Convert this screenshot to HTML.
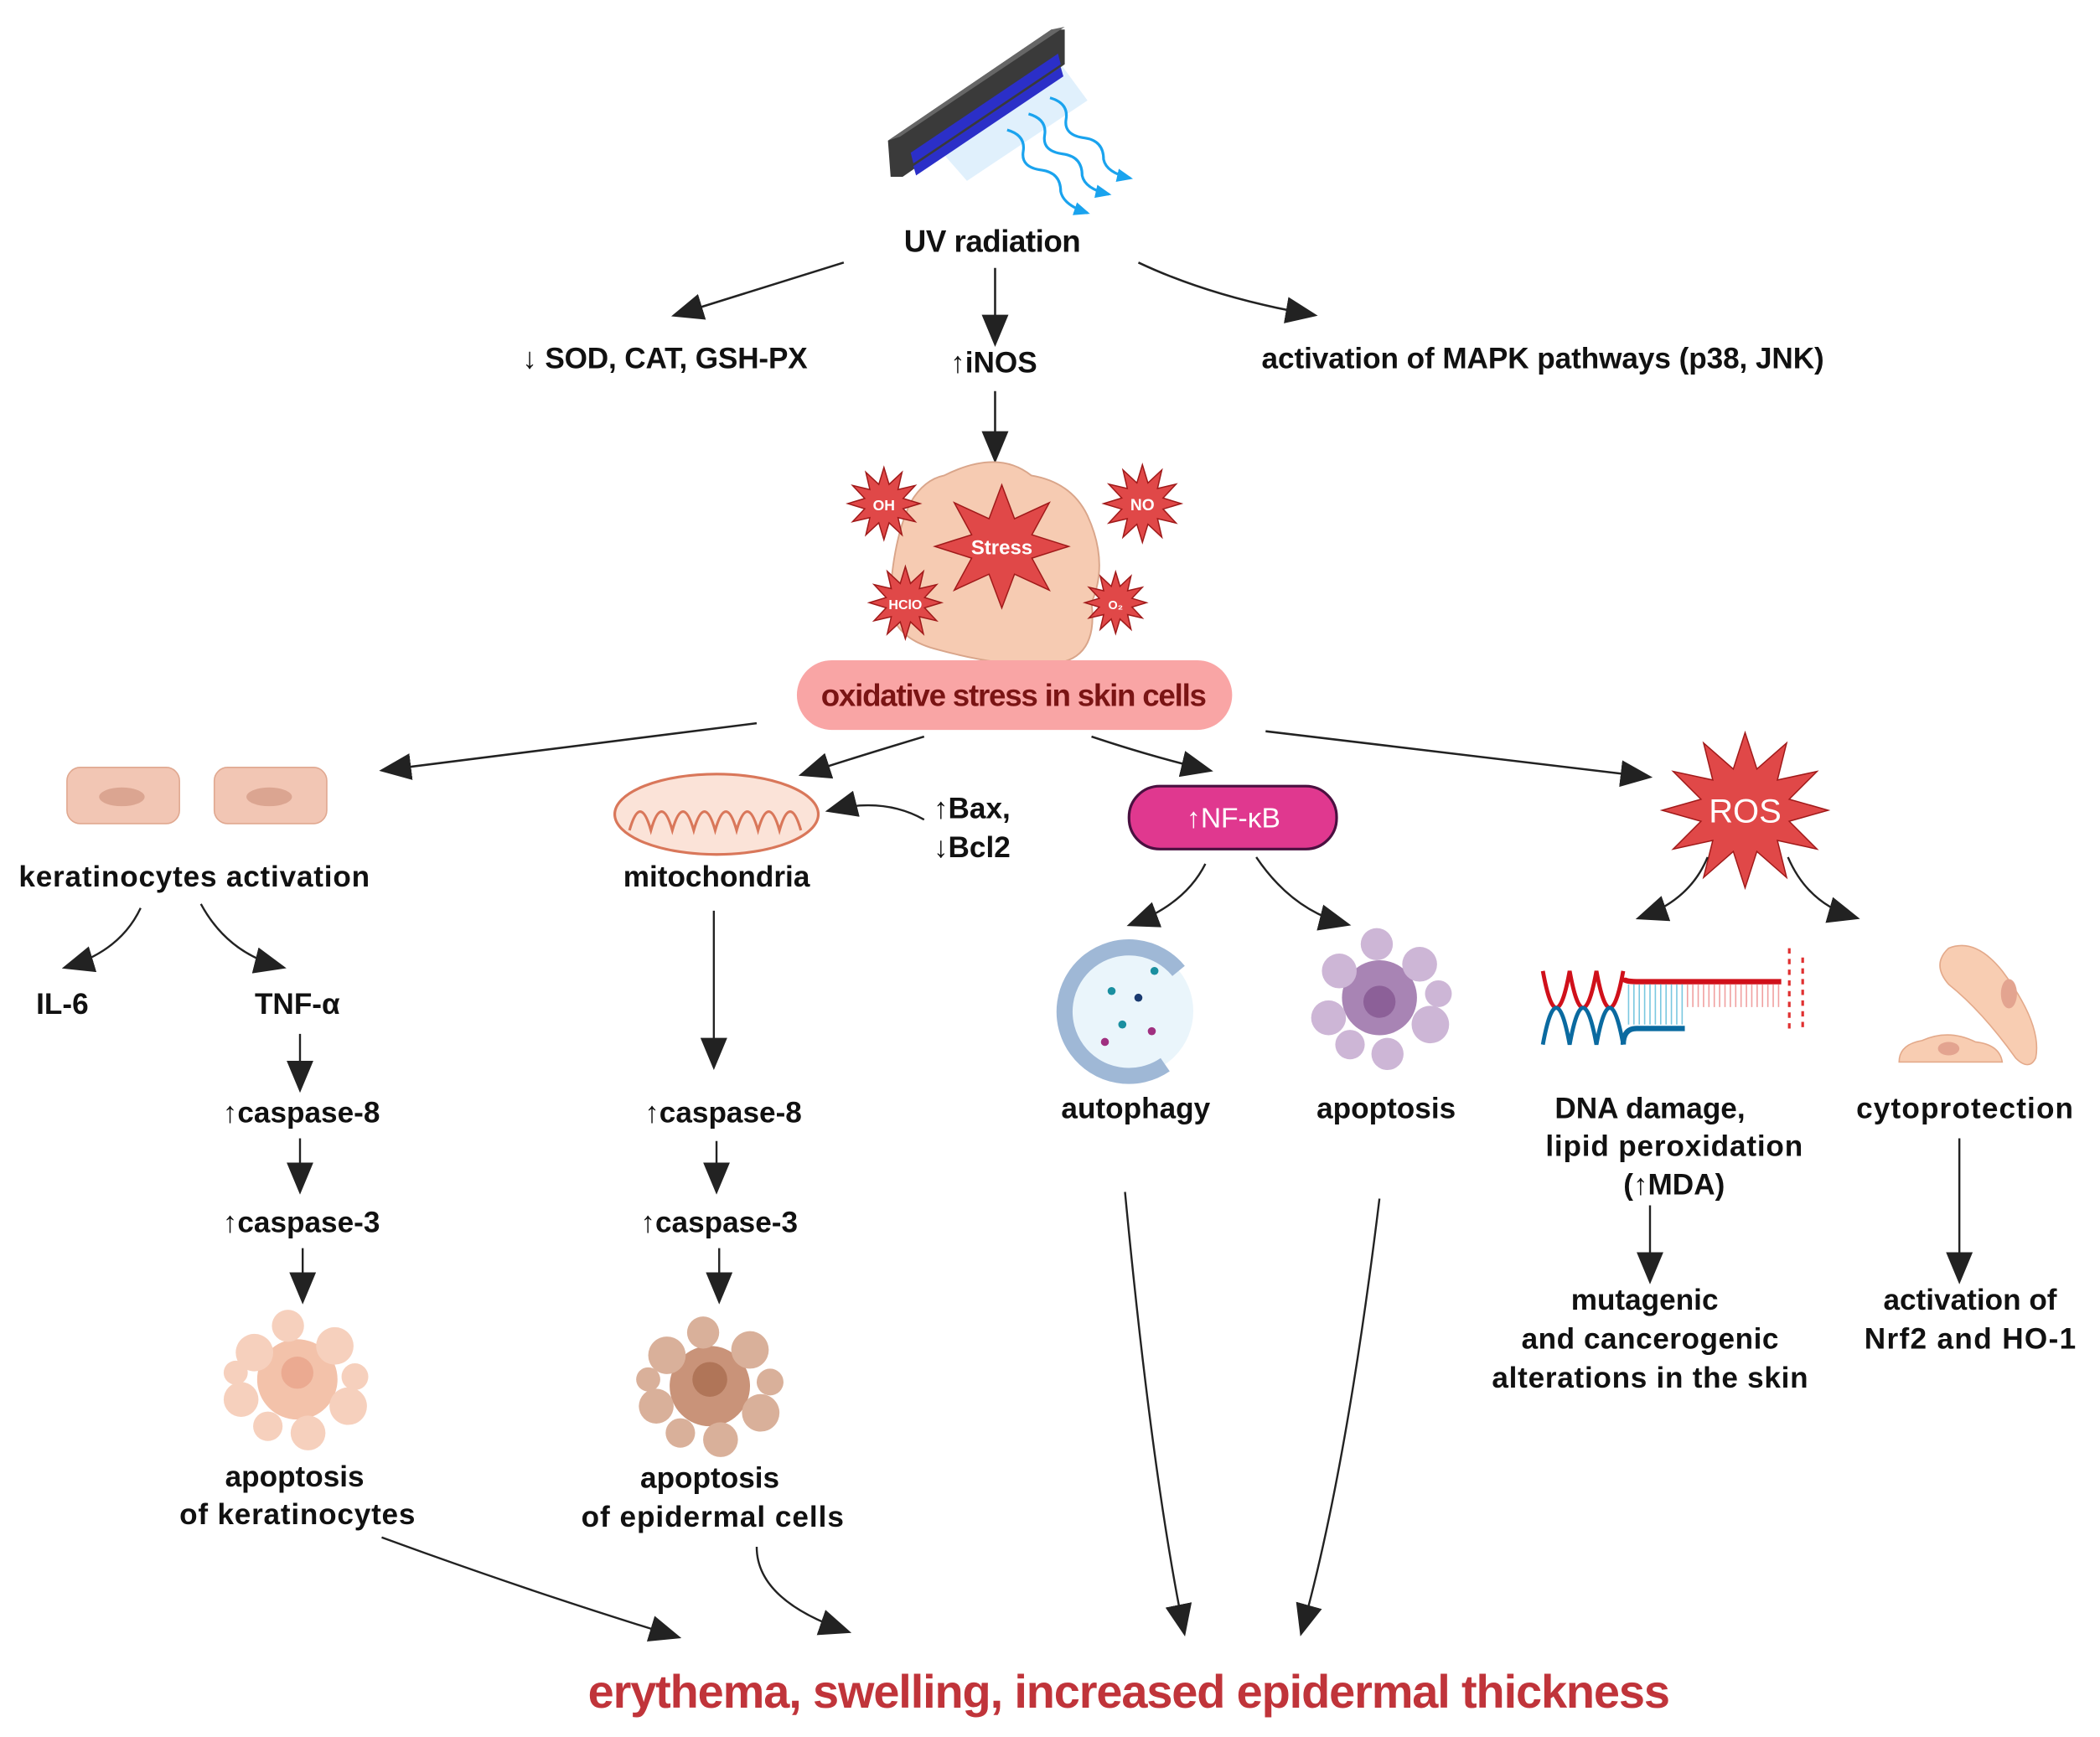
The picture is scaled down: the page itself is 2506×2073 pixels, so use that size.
<!DOCTYPE html>
<html><head><meta charset="utf-8"><style>
html,body{margin:0;padding:0;background:#fff}
svg{display:block}
text{font-family:"Liberation Sans",sans-serif;font-weight:bold;fill:#111}
</style></head><body>
<svg width="2506" height="2073" viewBox="0 0 1568 1297" xmlns="http://www.w3.org/2000/svg">
<defs>
<marker id="b" markerWidth="24" markerHeight="20" refX="20" refY="10" orient="auto" markerUnits="userSpaceOnUse" viewBox="0 0 24 20"><path d="M0,0 L24,10 L0,20 z" fill="#222"/></marker>
<marker id="w" markerWidth="12" markerHeight="10" refX="10" refY="5" orient="auto" markerUnits="userSpaceOnUse" viewBox="0 0 12 10"><path d="M0,0 L12,5 L0,10 z" fill="#1aa3ee"/></marker>
<polygon id="st" points="1,0 0.531,0.142 0.866,0.5 0.389,0.389 0.5,0.866 0.142,0.531 0,1 -0.142,0.531 -0.5,0.866 -0.389,0.389 -0.866,0.5 -0.531,0.142 -1,0 -0.531,-0.142 -0.866,-0.5 -0.389,-0.389 -0.5,-0.866 -0.142,-0.531 0,-1 0.142,-0.531 0.5,-0.866 0.389,-0.389 0.866,-0.5 0.531,-0.142" fill="#e04848" stroke="#a01a1a" stroke-width="1.5" vector-effect="non-scaling-stroke"/>
<polygon id="st8" points="1,0 0.45,0.19 0.71,0.71 0.19,0.45 0,1 -0.19,0.45 -0.71,0.71 -0.45,0.19 -1,0 -0.45,-0.19 -0.71,-0.71 -0.19,-0.45 0,-1 0.19,-0.45 0.71,-0.71 0.45,-0.19" fill="#e04848" stroke="#a01a1a" stroke-width="1.5" vector-effect="non-scaling-stroke"/>
</defs>

<!-- UV lamp -->
<g>
<polygon points="700,110 790,45 812,75 722,135" fill="#d8ecfb" opacity="0.8"/>
<polygon points="663,105 785,22 795,22 795,48 674,132 665,132" fill="#3a3a3a"/>
<polygon points="663,105 785,22 795,20 672,102" fill="#666"/>
<polygon points="680,114 790,40 792,48 682,122" fill="#2b2fc8"/>
<polygon points="682,124 792,50 794,57 684,131" fill="#2b2fc8"/>
<g fill="none" stroke="#1aa3ee" stroke-width="2">
<path d="M752,97 q14,4 12,16 q-2,12 14,14 q14,2 14,16 q2,10 20,16" marker-end="url(#w)"/>
<path d="M768,85 q14,4 12,16 q-2,12 14,14 q14,2 14,16 q2,10 20,14" marker-end="url(#w)"/>
<path d="M784,73 q14,4 12,16 q-2,12 14,14 q14,2 14,16 q2,10 20,14" marker-end="url(#w)"/>
</g>
</g>
<text x="741" y="188" text-anchor="middle" font-size="23" textLength="132">UV radiation</text>

<g fill="none" stroke="#222" stroke-width="1.6">
<path d="M630,196 Q570,215 505,235" marker-end="url(#b)"/>
<path d="M743,200 L743,255" marker-end="url(#b)"/>
<path d="M850,196 Q905,222 980,235" marker-end="url(#b)"/>
<path d="M743,292 L743,342" marker-end="url(#b)"/>
</g>
<text x="390" y="275" font-size="22" textLength="213">↓ SOD, CAT, GSH-PX</text>
<text x="742" y="278" text-anchor="middle" font-size="22">↑iNOS</text>
<text x="942" y="275" font-size="22" textLength="420">activation of MAPK pathways (p38, JNK)</text>

<!-- cell with stress -->
<path d="M705,355 Q745,335 770,355 Q800,360 812,385 Q828,420 815,450 Q820,490 790,495 Q755,500 700,485 Q660,475 665,440 Q668,400 680,375 Q690,358 705,355z" fill="#f6cbb2" stroke="#d9a58a" stroke-width="1.2"/>
<use href="#st8" transform="translate(748,408) scale(50,46)"/>
<text x="748" y="414" text-anchor="middle" font-size="15" style="fill:#fff">Stress</text>
<use href="#st" transform="translate(660,376) scale(27)"/>
<text x="660" y="381" text-anchor="middle" font-size="11" style="fill:#fff">OH</text>
<use href="#st" transform="translate(853,376) scale(29)"/>
<text x="853" y="381" text-anchor="middle" font-size="12" style="fill:#fff">NO</text>
<use href="#st" transform="translate(676,450) scale(27)"/>
<text x="676" y="455" text-anchor="middle" font-size="10" style="fill:#fff">HClO</text>
<use href="#st" transform="translate(833,450) scale(23)"/>
<text x="833" y="455" text-anchor="middle" font-size="9" style="fill:#fff">O₂</text>

<rect x="595" y="493" width="325" height="52" rx="26" fill="#f9a5a5"/>
<text x="757" y="527" text-anchor="middle" font-size="23" style="fill:#7a1414" textLength="288">oxidative stress in skin cells</text>

<g fill="none" stroke="#222" stroke-width="1.6">
<path d="M565,540 L287,575" marker-end="url(#b)"/>
<path d="M690,550 Q640,565 600,578" marker-end="url(#b)"/>
<path d="M815,550 Q860,565 902,575" marker-end="url(#b)"/>
<path d="M945,546 L1230,580" marker-end="url(#b)"/>
</g>

<!-- keratinocytes -->
<rect x="50" y="573" width="84" height="42" rx="10" fill="#f2c6b4" stroke="#e0a890"/>
<ellipse cx="91" cy="595" rx="17" ry="7" fill="#dba591"/>
<rect x="160" y="573" width="84" height="42" rx="10" fill="#f2c6b4" stroke="#e0a890"/>
<ellipse cx="201" cy="595" rx="17" ry="7" fill="#dba591"/>
<text x="145" y="662" text-anchor="middle" font-size="22" textLength="262">keratinocytes activation</text>
<g fill="none" stroke="#222" stroke-width="1.5">
<path d="M105,678 Q90,710 50,722" marker-end="url(#b)"/>
<path d="M150,675 Q170,712 210,722" marker-end="url(#b)"/>
<path d="M224,772 L224,812" marker-end="url(#b)"/>
<path d="M224,850 L224,888" marker-end="url(#b)"/>
<path d="M226,932 L226,970" marker-end="url(#b)"/>
</g>
<text x="27" y="757" font-size="22">IL-6</text>
<text x="222" y="757" text-anchor="middle" font-size="22">TNF-α</text>
<text x="225" y="838" text-anchor="middle" font-size="22">↑caspase-8</text>
<text x="225" y="920" text-anchor="middle" font-size="22">↑caspase-3</text>
<g fill="#f5c8b2" opacity="0.85">
<circle cx="222" cy="1030" r="30" fill="#f1b89c"/><circle cx="190" cy="1010" r="14"/><circle cx="250" cy="1005" r="14"/><circle cx="180" cy="1045" r="13"/><circle cx="260" cy="1050" r="14"/><circle cx="215" cy="990" r="12"/><circle cx="230" cy="1070" r="13"/><circle cx="200" cy="1065" r="11"/><circle cx="265" cy="1028" r="10"/><circle cx="176" cy="1025" r="9"/>
<circle cx="222" cy="1025" r="12" fill="#e89c7e"/>
</g>
<text x="220" y="1110" text-anchor="middle" font-size="22">apoptosis</text>
<text x="222" y="1138" text-anchor="middle" font-size="22" textLength="176">of keratinocytes</text>

<!-- mitochondria -->
<ellipse cx="535" cy="608" rx="76" ry="30" fill="#fbe3d8" stroke="#d9775a" stroke-width="2"/>
<path d="M470,620 q8,-28 16,0 q8,-28 16,0 q8,-28 16,0 q8,-28 16,0 q8,-28 16,0 q8,-28 16,0 q8,-28 16,0 q8,-28 16,0" fill="none" stroke="#d9775a" stroke-width="2"/>
<text x="535" y="662" text-anchor="middle" font-size="22">mitochondria</text>
<text x="697" y="611" font-size="22">↑Bax,</text>
<text x="697" y="640" font-size="22">↓Bcl2</text>
<g fill="none" stroke="#222" stroke-width="1.5">
<path d="M690,612 Q660,595 620,605" marker-end="url(#b)"/>
<path d="M533,680 L533,795" marker-end="url(#b)"/>
<path d="M535,852 L535,888" marker-end="url(#b)"/>
<path d="M537,932 L537,970" marker-end="url(#b)"/>
</g>
<text x="540" y="838" text-anchor="middle" font-size="22">↑caspase-8</text>
<text x="537" y="920" text-anchor="middle" font-size="22">↑caspase-3</text>
<g fill="#d9b09a">
<circle cx="530" cy="1035" r="30" fill="#c99379"/><circle cx="498" cy="1012" r="14"/><circle cx="560" cy="1008" r="14"/><circle cx="490" cy="1050" r="13"/><circle cx="568" cy="1055" r="14"/><circle cx="525" cy="995" r="12"/><circle cx="538" cy="1075" r="13"/><circle cx="508" cy="1070" r="11"/><circle cx="575" cy="1032" r="10"/><circle cx="484" cy="1030" r="9"/>
<circle cx="530" cy="1030" r="13" fill="#b07558"/>
</g>
<text x="530" y="1111" text-anchor="middle" font-size="22">apoptosis</text>
<text x="532" y="1140" text-anchor="middle" font-size="22" textLength="196">of epidermal cells</text>

<!-- NF-kB -->
<rect x="843" y="587" width="155" height="47" rx="23" fill="#e0388f" stroke="#4a1040" stroke-width="2"/>
<text x="921" y="618" text-anchor="middle" font-size="21" style="fill:#fff;font-weight:normal">↑NF-κB</text>
<g fill="none" stroke="#222" stroke-width="1.5">
<path d="M900,645 Q885,675 845,690" marker-end="url(#b)"/>
<path d="M938,640 Q965,680 1005,690" marker-end="url(#b)"/>
</g>
<circle cx="843" cy="755" r="48" fill="#eaf5fb"/>
<path d="M870,795 A48,48 0 1,1 880,725" fill="none" stroke="#9fb8d6" stroke-width="12"/>
<g fill="#1a8fa0"><circle cx="830" cy="740" r="3"/><circle cx="850" cy="745" r="3" fill="#1a3a70"/><circle cx="838" cy="765" r="3"/><circle cx="860" cy="770" r="3" fill="#a03080"/><circle cx="825" cy="778" r="3" fill="#a03080"/><circle cx="862" cy="725" r="3"/></g>
<text x="848" y="835" text-anchor="middle" font-size="22">autophagy</text>
<g fill="#cdb6d6">
<circle cx="1030" cy="745" r="28" fill="#a884b4"/><circle cx="1000" cy="725" r="13"/><circle cx="1060" cy="720" r="13"/><circle cx="992" cy="760" r="13"/><circle cx="1068" cy="765" r="14"/><circle cx="1028" cy="705" r="12"/><circle cx="1036" cy="787" r="12"/><circle cx="1008" cy="780" r="11"/><circle cx="1074" cy="742" r="10"/>
<circle cx="1030" cy="748" r="12" fill="#8c6098"/>
</g>
<text x="1035" y="835" text-anchor="middle" font-size="22">apoptosis</text>

<!-- ROS -->
<use href="#st" transform="translate(1303,605) scale(62,58)"/>
<text x="1303" y="614" text-anchor="middle" font-size="25" style="fill:#fff;font-weight:normal">ROS</text>
<g fill="none" stroke="#222" stroke-width="1.5">
<path d="M1275,640 Q1262,672 1225,685" marker-end="url(#b)"/>
<path d="M1335,640 Q1350,675 1385,685" marker-end="url(#b)"/>
</g>
<!-- DNA -->
<g fill="none" stroke-width="3">
<path d="M1152,725 q10,55 20,0 q10,55 20,0 q10,55 20,0" stroke="#d0101a"/>
<path d="M1152,780 q10,-55 20,0 q10,-55 20,0 q10,-55 20,0" stroke="#0a6aa0"/>
<path d="M1212,780 Q1212,768 1222,768 L1258,768" stroke="#0a6aa0" stroke-width="4"/>
<path d="M1212,730 Q1212,733 1222,733 L1330,733" stroke="#d0101a" stroke-width="4"/>
</g>
<g stroke-width="1">
<path d="M1216,735 V765 M1220,735 V765 M1224,735 V765 M1228,735 V765 M1232,735 V765 M1236,735 V765 M1240,735 V765 M1244,735 V765 M1248,735 V765 M1252,735 V765 M1256,735 V765" stroke="#7ac8e0"/>
<path d="M1260,735 V752 M1264,735 V752 M1268,735 V752 M1272,735 V752 M1276,735 V752 M1280,735 V752 M1284,735 V752 M1288,735 V752 M1292,735 V752 M1296,735 V752 M1300,735 V752 M1304,735 V752 M1308,735 V752 M1312,735 V752 M1316,735 V752 M1320,735 V752 M1324,735 V752 M1328,735 V752" stroke="#f0a0a0"/>
<path d="M1336,708 V770 M1346,715 V768" stroke="#e03030" stroke-dasharray="4,4" stroke-width="2"/>
</g>
<text x="1232" y="835" text-anchor="middle" font-size="22">DNA damage,</text>
<text x="1250" y="863" text-anchor="middle" font-size="22" textLength="192">lipid peroxidation</text>
<text x="1250" y="892" text-anchor="middle" font-size="22">(↑MDA)</text>
<path d="M1232,900 L1232,955" stroke="#222" stroke-width="1.5" marker-end="url(#b)"/>
<text x="1228" y="978" text-anchor="middle" font-size="22">mutagenic</text>
<text x="1232" y="1007" text-anchor="middle" font-size="22" textLength="192">and cancerogenic</text>
<text x="1232" y="1036" text-anchor="middle" font-size="22" textLength="236">alterations in the skin</text>

<!-- cytoprotection cells -->
<path d="M1455,708 Q1475,700 1495,725 Q1525,765 1520,790 Q1515,800 1505,790 Q1480,755 1455,735 Q1442,720 1455,708z" fill="#f8cdb2" stroke="#e3a98a"/>
<ellipse cx="1500" cy="742" rx="6" ry="11" fill="#e3a490"/>
<path d="M1418,793 Q1418,780 1435,777 Q1455,768 1475,778 Q1493,780 1495,793 z" fill="#f8cdb2" stroke="#e3a98a"/>
<ellipse cx="1455" cy="783" rx="8" ry="5" fill="#e3a490"/>
<text x="1467" y="835" text-anchor="middle" font-size="22" textLength="162">cytoprotection</text>
<path d="M1463,850 L1463,955" stroke="#222" stroke-width="1.5" marker-end="url(#b)"/>
<text x="1471" y="978" text-anchor="middle" font-size="22">activation of</text>
<text x="1471" y="1007" text-anchor="middle" font-size="22" textLength="158">Nrf2 and HO-1</text>

<!-- bottom arrows -->
<g fill="none" stroke="#222" stroke-width="1.5">
<path d="M285,1148 Q400,1190 505,1222" marker-end="url(#b)"/>
<path d="M565,1155 Q565,1195 632,1218" marker-end="url(#b)"/>
<path d="M840,890 Q860,1100 884,1218" marker-end="url(#b)"/>
<path d="M1030,895 Q1005,1100 972,1218" marker-end="url(#b)"/>
</g>
<text x="843" y="1275" text-anchor="middle" font-size="35" style="fill:#c0343a" textLength="808">erythema, swelling, increased epidermal thickness</text>
</svg>
</body></html>
